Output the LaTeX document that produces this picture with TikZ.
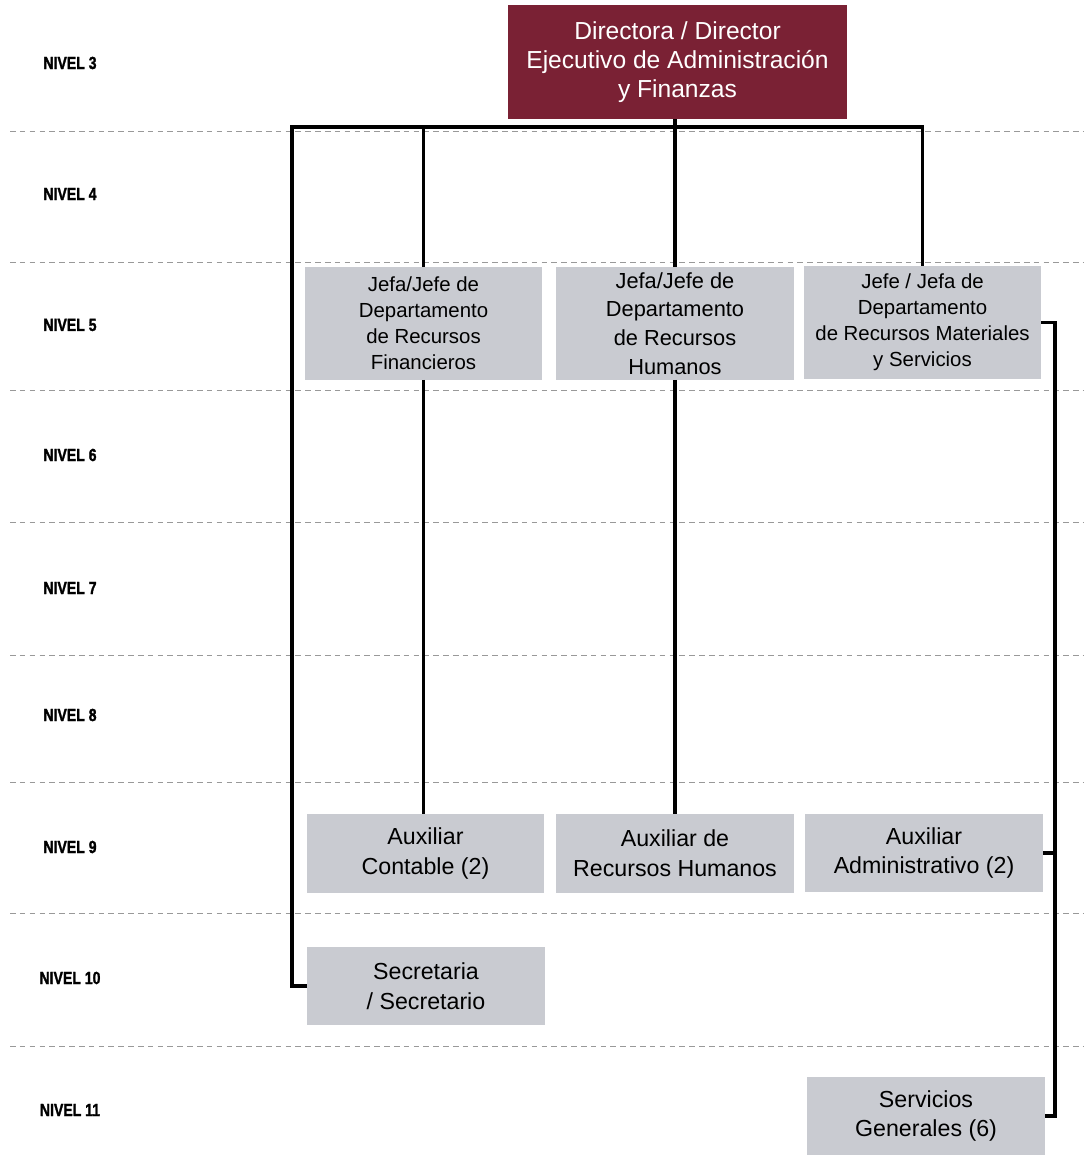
\documentclass[tikz,border=0pt]{standalone}
\usepackage{fontspec}
\setmainfont{Liberation Sans}
\newfontfamily\nivelfont[FakeStretch=0.8,FakeBold=1.5]{Liberation Sans}
\usetikzlibrary{positioning}
\definecolor{vino}{HTML}{7A2134}
\definecolor{gris}{HTML}{C9CBD1}
\tikzset{
  head/.style={fill=vino, text=white, align=center, inner sep=0pt,
    minimum width=8.475cm, minimum height=2.85cm,
    font=\fontsize{17.5}{20.6}\selectfont},
  dept/.style={fill=gris, align=center, inner sep=0pt,
    minimum width=5.925cm, minimum height=2.8cm,
    font=\fontsize{14.5}{18.5}\selectfont},
  aux/.style={dept, minimum height=1.95cm,
    font=\fontsize{16.5}{21.3}\selectfont},
  nivel/.style={font=\nivelfont\bfseries\fontsize{12.5}{14}\selectfont},
  link/.style={line width=2.8pt},
  sep/.style={gray!80, dash pattern=on 4pt off 3pt, line width=0.7pt}
}
\begin{document}
\begin{tikzpicture}[x=0.025cm, y=-0.025cm]
  \useasboundingbox (0,0) rectangle (1083,1174);

  % level separators
  \foreach \y in {131,262,390,522,655,782,913,1046}
    \draw[sep] (10,\y) -- (1083,\y);

  % level labels
  \foreach \n/\y in {3/63,4/194,5/325,6/455,7/588,8/715,9/847,10/978,11/1110}
    \node[nivel] (nivel\n) at (70,\y) {NIVEL \n};

  % nodes
  \node[head] (dir) at (677.5,62) {Directora / Director\\Ejecutivo de Administraci\'on\\y Finanzas};

  \node[dept] (rf) at (423.5,323.5) {Jefa/Jefe de\\Departamento\\de Recursos\\Financieros};
  \node[dept, font=\fontsize{15.5}{20.5}\selectfont] (rh) at (675,323.5) {Jefa/Jefe de\\Departamento\\de Recursos\\Humanos};
  \node[dept] (rm) at (922.5,322.5) {Jefe / Jefa de\\Departamento\\de Recursos Materiales\\y Servicios};

  \node[aux] (ac) at (425.5,853.5) {Auxiliar\\Contable (2)};
  \node[aux] (arh) at (675,853.5) {Auxiliar de\\Recursos Humanos};
  \node[aux] (aa) at (924,853) {Auxiliar\\Administrativo (2)};

  \node[aux] (sec) at (426,986) {Secretaria\\/ Secretario};
  \node[aux] (sg) at (926,1116) {Servicios\\Generales (6)};

  % connectors
  \coordinate (bus) at (292,127);
  \coordinate (rbus) at (1055,322.5);

  \draw[link] (rh.north) -- (rh.north |- dir.south);
  \draw[link] (sec.west) -| (bus) -| (rm.north);
  \draw[link] (rf.north) -- (rf.north |- bus);
  \draw[link] (rf.south) -- (rf.south |- ac.north);
  \draw[link] (rh.south) -- (rh.south |- arh.north);

  \draw[link] (rm.east) -- (rbus) |- (sg.east);
  \draw[link] (aa.east) -- (aa.east -| rbus);
\end{tikzpicture}
\end{document}
